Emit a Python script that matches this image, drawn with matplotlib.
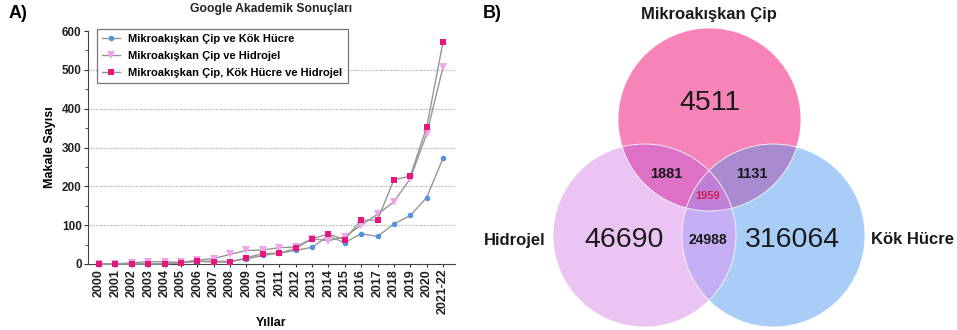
import numpy as np
import matplotlib.pyplot as plt
from matplotlib.patches import Circle, Polygon
from matplotlib.ticker import MultipleLocator

plt.rcParams['font.family'] = ['Liberation Sans', 'DejaVu Sans']

# Données - Google Akademik
years = ['2000', '2001', '2002', '2003', '2004', '2005', '2006', '2007', '2008', '2009', '2010',
         '2011', '2012', '2013', '2014', '2015', '2016', '2017', '2018', '2019', '2020', '2021-22']
kok_hucre = [0, 0, 0, 0, 0, 4, 7, 7, 7, 13, 22, 28, 35, 43, 72, 55, 78, 71, 103, 125, 171, 273]
hidrojel = [0, 0, 3, 6, 6, 4, 10, 14, 25, 35, 36, 42, 44, 65, 60, 70, 100, 128, 160, 220, 335, 507]
hepsi = [0, 0, 1, 1, 1, 3, 7, 5, 5, 16, 27, 28, 40, 65, 77, 63, 113, 113, 217, 226, 352, 572]
series_labels = ['Mikroakışkan Çip ve Kök Hücre', 'Mikroakışkan Çip ve Hidrojel',
                 'Mikroakışkan Çip, Kök Hücre ve Hidrojel']

# Données - Venn
set_names = ['Mikroakışkan Çip', 'Hidrojel', 'Kök Hücre']
only_counts = [4511, 46690, 316064]
pair_counts = [1881, 1131, 24988]   # cip-hidrojel, cip-kok, hidrojel-kok
triple_count = 1959

fig = plt.figure(figsize=(9.57, 3.30), dpi=100)

# ---------- A) line chart ----------
ax = fig.add_axes([88 / 957, 1 - 264 / 330, 367 / 957, 233 / 330])
x = np.arange(len(years))
line_kw = dict(color='#969696', linewidth=1.0, clip_on=False)
ax.plot(x, kok_hucre, marker='o', markersize=4, markerfacecolor='#4f94e0', markeredgewidth=0,
        label=series_labels[0], zorder=3, **line_kw)
ax.plot(x, hidrojel, marker='v', markersize=6, markerfacecolor='#f2a2ee', markeredgewidth=0,
        label=series_labels[1], zorder=3, **line_kw)
ax.plot(x, hepsi, marker='s', markersize=5, markerfacecolor='#e8157a', markeredgewidth=0,
        label=series_labels[2], zorder=3, **line_kw)

ax.set_xlim(-0.67, len(years) - 1 + 0.73)
ax.set_ylim(0, 600)
ax.set_xticks(x)
ax.set_xticklabels(years, rotation=90, fontsize=9, fontweight='bold')
ax.yaxis.set_major_locator(MultipleLocator(100))
ax.yaxis.set_minor_locator(MultipleLocator(50))
for lab in ax.get_yticklabels():
    lab.set_fontweight('bold')
    lab.set_fontsize(8.5)
ax.tick_params(axis='x', length=2, pad=1.5, colors='#333333', labelcolor='#222222')
ax.tick_params(axis='y', which='major', length=3, pad=1.5, colors='#333333', labelcolor='#222222')
ax.tick_params(axis='y', which='minor', length=2, colors='#333333')
for yv in [100, 200, 300, 400, 500]:
    ax.axhline(yv, color='#b0b0b0', linestyle=(0, (1, 1)), linewidth=0.9, zorder=0)
ax.spines['top'].set_visible(False)
ax.spines['right'].set_visible(False)
ax.spines['left'].set_color('#444444')
ax.spines['bottom'].set_color('#444444')

ax.set_ylabel('Makale Sayısı', fontsize=9, fontweight='bold', labelpad=4)
ax.set_xlabel('Yıllar', fontsize=9, fontweight='bold', labelpad=2)
leg = ax.legend(loc='upper left', bbox_to_anchor=(0.024, 1.008),
                prop={'weight': 'bold', 'size': 8}, frameon=True, fancybox=False,
                edgecolor='#555555', handlelength=1.6, handletextpad=0.8, borderpad=0.45,
                labelspacing=0.62, borderaxespad=0)
leg.get_frame().set_linewidth(0.9)

fig.text(271 / 957, 1 - 9 / 330, 'Google Akademik Sonuçları', ha='center', va='center',
         fontsize=8.7, fontweight='bold', color='#222222')
fig.text(9 / 957, 1 - 13 / 330, 'A)', ha='left', va='center', fontsize=13, fontweight='bold')

# ---------- B) Venn ----------
ax2 = fig.add_axes([480 / 957, 0, 477 / 957, 1])
ax2.set_xlim(480, 957)
ax2.set_ylim(330, 0)
ax2.axis('off')

r = 91.5
centers = [(709.5, 119.5), (644.5, 235.5), (773.5, 235.5)]
fills = ['#f784b9', '#ecc4f4', '#a9cdf7']
pair_fills = ['#de70c6', '#a98ad1', '#c5aef4']
pairs = [(0, 1), (0, 2), (1, 2)]
triple_fill = '#c27fd8'


def region(idx):
    # polygone de l'intersection des cercles idx (convexe)
    t = np.linspace(0, 2 * np.pi, 1440, endpoint=False)
    pts = []
    for i in idx:
        cx, cy = centers[i]
        p = np.column_stack([cx + r * np.cos(t), cy + r * np.sin(t)])
        ok = np.ones(len(p), bool)
        for j in idx:
            if j != i:
                ok &= np.hypot(p[:, 0] - centers[j][0], p[:, 1] - centers[j][1]) <= r + 1e-6
        pts.append(p[ok])
    pts = np.vstack(pts)
    m = pts.mean(axis=0)
    order = np.argsort(np.arctan2(pts[:, 1] - m[1], pts[:, 0] - m[0]))
    return pts[order]


for c, f in zip(centers, fills):
    ax2.add_patch(Circle(c, r, facecolor=f, edgecolor='none'))
for (i, j), f in zip(pairs, pair_fills):
    ax2.add_patch(Polygon(region([i, j]), closed=True, facecolor=f, edgecolor='none'))
ax2.add_patch(Polygon(region([0, 1, 2]), closed=True, facecolor=triple_fill, edgecolor='none'))
for c in centers:
    ax2.add_patch(Circle(c, r, facecolor='none', edgecolor='white', linewidth=0.7, alpha=0.8))

only_pos = [(710, 103), (624, 240), (792, 240)]
for (px, py), v in zip(only_pos, only_counts):
    ax2.text(px, py, str(v), ha='center', va='center', fontsize=20.5, color='#1a1a1a')
pair_pos = [(666, 174), (752, 174), (708, 240)]
pair_sizes = [10.5, 10.5, 10]
for (px, py), v, s in zip(pair_pos, pair_counts, pair_sizes):
    ax2.text(px, py, str(v), ha='center', va='center', fontsize=s, fontweight='bold', color='#1a1a1a')
ax2.text(708, 196, str(triple_count), ha='center', va='center', fontsize=8,
         fontweight='bold', color='#d21c4c')

name_pos = [(709, 14), (515, 240), (912, 240)]
for (px, py), name in zip(name_pos, set_names):
    ax2.text(px, py, name, ha='center', va='center', fontsize=12, fontweight='bold', color='#1a1a1a')
ax2.text(483, 13, 'B)', ha='left', va='center', fontsize=13, fontweight='bold')

fig.savefig('out.png', dpi=100)
